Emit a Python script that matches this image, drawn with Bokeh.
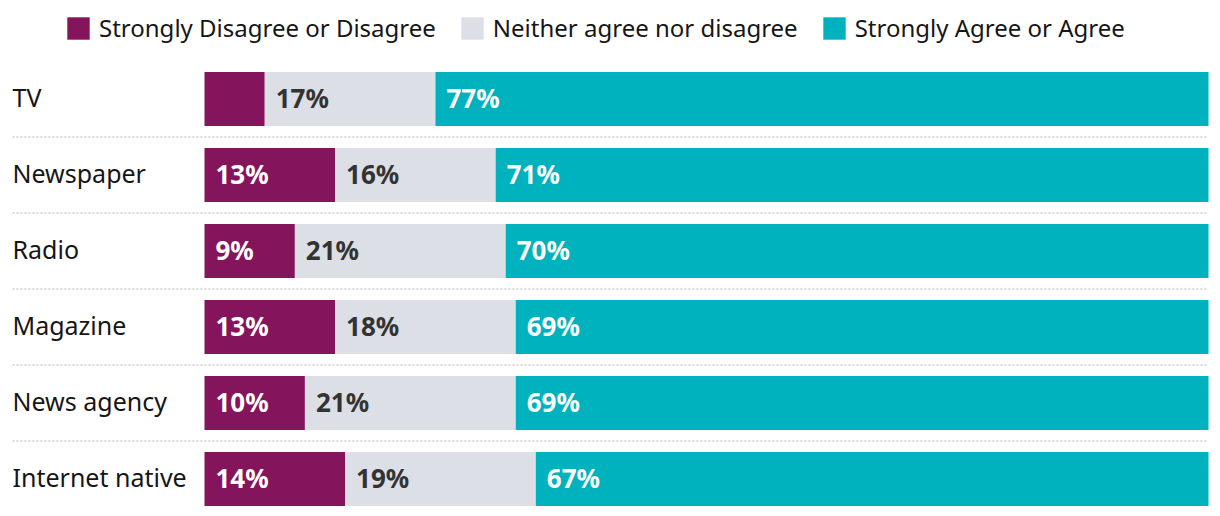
from bokeh.plotting import figure
from bokeh.models import ColumnDataSource, Legend, LegendItem, Range1d
from bokeh.core.properties import value
from bokeh.embed import file_html
from bokeh.resources import INLINE

categories = ["TV", "Newspaper", "Radio", "Magazine", "News agency", "Internet native"]
disagree = [6, 13, 9, 13, 10, 14]
neither = [17, 16, 21, 18, 21, 19]
agree = [77, 71, 70, 69, 69, 67]
series_names = ["Strongly Disagree or Disagree", "Neither agree nor disagree", "Strongly Agree or Agree"]
colors = ["#84145c", "#dcdfe5", "#00b2be"]
label_colors = ["#ffffff", "#333333", "#ffffff"]

FONT = "Noto Sans"
W, H = 1212, 508
PXU = 10.04  # px per percent
BAR_LEFT = 204
x0 = -BAR_LEFT / PXU
x1 = (W - BAR_LEFT) / PXU
ytop = 98.5 / 76
ybot = -(H - 98.5) / 76
XLAB = (12 - BAR_LEFT) / PXU

p = figure(width=W, height=H, output_backend="svg", toolbar_location=None,
           x_range=Range1d(x0, x1), y_range=Range1d(ybot, ytop),
           min_border=0, min_border_left=0, min_border_right=0,
           min_border_top=0, min_border_bottom=0)
p.xaxis.visible = False
p.yaxis.visible = False
p.xgrid.visible = False
p.ygrid.visible = False
p.outline_line_color = None
p.background_fill_color = "#ffffff"

ys = [-i for i in range(len(categories))]
cum0 = [0] * len(categories)
cum1 = disagree[:]
cum2 = [a + b for a, b in zip(disagree, neither)]

src = ColumnDataSource(dict(y=ys, cat=categories,
                            d=disagree, n=neither, a=agree))

# separators
sep_y = [-(i + 0.5) for i in range(len(categories) - 1)]
p.segment(x0=[XLAB] * len(sep_y), x1=[100] * len(sep_y), y0=sep_y, y1=sep_y,
          line_color="#cfcfcf", line_width=1.5, line_dash="2 2")

renderers = p.hbar_stack(["d", "n", "a"], y="y", height=54 / 76, color=colors,
                         source=src, line_width=0)

# value labels
starts = [cum0, cum1, cum2]
vals = [disagree, neither, agree]
for k in range(3):
    xs, yy, tx = [], [], []
    for i in range(len(categories)):
        if vals[k][i] >= 8:
            xs.append(starts[k][i])
            yy.append(ys[i])
            tx.append(f"{vals[k][i]}%")
    p.text(x=xs, y=yy, text=tx, x_offset=11, y_offset=-1, text_baseline="middle",
           text_align="left", text_font=value(FONT), text_font_style="bold",
           text_font_size="26px", text_color=label_colors[k])

# category labels
p.text(x=[XLAB] * len(categories), y=ys, text=categories, y_offset=-2,
       text_baseline="middle", text_align="left", text_font=value(FONT),
       text_font_size="25px", text_color="#161616")

legend = Legend(items=[LegendItem(label=series_names[k], renderers=[renderers[k]])
                       for k in range(3)],
                orientation="horizontal", location=(64, H - 44),
                glyph_width=28, glyph_height=28, label_height=28,
                label_standoff=7, spacing=22, padding=0, margin=0,
                label_text_font=FONT, label_text_font_size="24px",
                label_text_color="#161616", label_text_baseline="middle",
                border_line_alpha=0, background_fill_alpha=0)
p.add_layout(legend)

open("out.html", "w").write(file_html(p, INLINE))
